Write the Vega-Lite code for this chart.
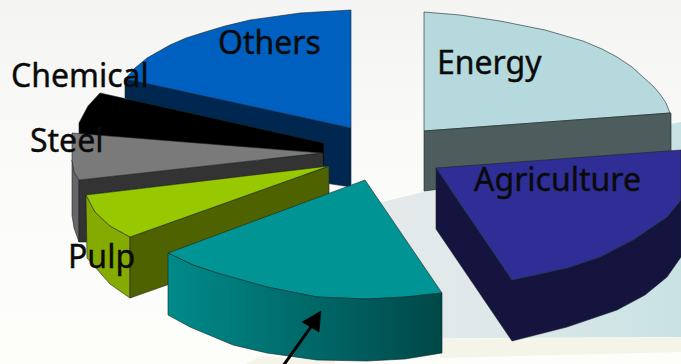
{
"$schema":"https://vega.github.io/schema/vega-lite/v6.json",
"width":681,"height":364,"padding":0,
"autosize":{"type":"none"},
"background":"#f8f9f7",
"view":{"stroke":null},
"config":{"axis":{"grid":false}},
"datasets":{
"floor":[
{"part":"floor","step":1,"x":0,"y":0},{"part":"floor","step":2,"x":681,"y":0},{"part":"floor","step":3,"x":681,"y":364},{"part":"floor","step":4,"x":0,"y":364}
],
"backdrop":[
{"part":"backdrop","step":1,"x":340,"y":215},{"part":"backdrop","step":2,"x":382,"y":202},{"part":"backdrop","step":3,"x":423,"y":192},{"part":"backdrop","step":4,"x":500,"y":160},{"part":"backdrop","step":5,"x":600,"y":135},{"part":"backdrop","step":6,"x":670,"y":124},{"part":"backdrop","step":7,"x":681,"y":122},{"part":"backdrop","step":8,"x":681,"y":337},{"part":"backdrop","step":9,"x":340,"y":339}
],
"shelf":[
{"part":"shelf right","step":1,"x":440,"y":339},{"part":"shelf right","step":2,"x":681,"y":337},{"part":"shelf right","step":3,"x":681,"y":352},{"part":"shelf right","step":4,"x":440,"y":358},
{"part":"shelf left","step":1,"x":245,"y":364},{"part":"shelf left","step":2,"x":262,"y":356},{"part":"shelf left","step":3,"x":335,"y":361},{"part":"shelf left","step":4,"x":335,"y":364}
],
"faces":[
{"part":"Energy top","step":1,"x":424,"y":12},{"part":"Energy top","step":2,"x":460,"y":15},{"part":"Energy top","step":3,"x":500,"y":21},{"part":"Energy top","step":4,"x":545,"y":30},{"part":"Energy top","step":5,"x":583,"y":41},{"part":"Energy top","step":6,"x":602,"y":49},{"part":"Energy top","step":7,"x":617,"y":57},{"part":"Energy top","step":8,"x":632,"y":67},{"part":"Energy top","step":9,"x":643,"y":77},{"part":"Energy top","step":10,"x":653,"y":86},{"part":"Energy top","step":11,"x":660,"y":94},{"part":"Energy top","step":12,"x":666,"y":103},{"part":"Energy top","step":13,"x":670,"y":113},{"part":"Energy top","step":14,"x":424,"y":131},
{"part":"Energy side","step":1,"x":424,"y":131},{"part":"Energy side","step":2,"x":671,"y":113},{"part":"Energy side","step":3,"x":671,"y":160},{"part":"Energy side","step":4,"x":424,"y":191},
{"part":"Others side","step":1,"x":125,"y":78},{"part":"Others side","step":2,"x":351,"y":128},{"part":"Others side","step":3,"x":351,"y":187},{"part":"Others side","step":4,"x":325,"y":183},{"part":"Others side","step":5,"x":125,"y":98},
{"part":"Others top","step":1,"x":351,"y":10},{"part":"Others top","step":2,"x":300,"y":13},{"part":"Others top","step":3,"x":250,"y":20},{"part":"Others top","step":4,"x":225,"y":26},{"part":"Others top","step":5,"x":205,"y":32},{"part":"Others top","step":6,"x":186,"y":38},{"part":"Others top","step":7,"x":170,"y":45},{"part":"Others top","step":8,"x":147,"y":58},{"part":"Others top","step":9,"x":135,"y":68},{"part":"Others top","step":10,"x":125,"y":79},{"part":"Others top","step":11,"x":351,"y":128},
{"part":"Chemical","step":1,"x":100,"y":93},{"part":"Chemical","step":2,"x":324,"y":143},{"part":"Chemical","step":3,"x":324,"y":165},{"part":"Chemical","step":4,"x":79,"y":140},{"part":"Chemical","step":5,"x":79,"y":123},{"part":"Chemical","step":6,"x":88,"y":106},
{"part":"Steel rim","step":1,"x":72,"y":160},{"part":"Steel rim","step":2,"x":79,"y":180},{"part":"Steel rim","step":3,"x":79,"y":242},{"part":"Steel rim","step":4,"x":74,"y":228},{"part":"Steel rim","step":5,"x":72,"y":215},
{"part":"Steel side","step":1,"x":79,"y":180},{"part":"Steel side","step":2,"x":323,"y":153},{"part":"Steel side","step":3,"x":323,"y":167},{"part":"Steel side","step":4,"x":86,"y":195},{"part":"Steel side","step":5,"x":88,"y":242},{"part":"Steel side","step":6,"x":79,"y":242},
{"part":"Steel top","step":1,"x":72,"y":133},{"part":"Steel top","step":2,"x":322,"y":153},{"part":"Steel top","step":3,"x":79,"y":180},{"part":"Steel top","step":4,"x":74,"y":172},{"part":"Steel top","step":5,"x":72,"y":160},
{"part":"Pulp rim","step":1,"x":86,"y":195},{"part":"Pulp rim","step":2,"x":95,"y":212},{"part":"Pulp rim","step":3,"x":110,"y":226},{"part":"Pulp rim","step":4,"x":130,"y":237},{"part":"Pulp rim","step":5,"x":130,"y":298},{"part":"Pulp rim","step":6,"x":110,"y":284},{"part":"Pulp rim","step":7,"x":87,"y":258},
{"part":"Pulp side","step":1,"x":130,"y":237},{"part":"Pulp side","step":2,"x":329,"y":166},{"part":"Pulp side","step":3,"x":329,"y":228},{"part":"Pulp side","step":4,"x":130,"y":298},
{"part":"Pulp top","step":1,"x":86,"y":195},{"part":"Pulp top","step":2,"x":329,"y":166},{"part":"Pulp top","step":3,"x":130,"y":237},{"part":"Pulp top","step":4,"x":110,"y":226},{"part":"Pulp top","step":5,"x":95,"y":212},
{"part":"Agriculture side","step":1,"x":436,"y":168},{"part":"Agriculture side","step":2,"x":512,"y":280},{"part":"Agriculture side","step":3,"x":567,"y":268},{"part":"Agriculture side","step":4,"x":600,"y":257},{"part":"Agriculture side","step":5,"x":633,"y":240},{"part":"Agriculture side","step":6,"x":667,"y":217},{"part":"Agriculture side","step":7,"x":681,"y":200},{"part":"Agriculture side","step":8,"x":681,"y":257},{"part":"Agriculture side","step":9,"x":667,"y":277},{"part":"Agriculture side","step":10,"x":645,"y":295},{"part":"Agriculture side","step":11,"x":617,"y":310},{"part":"Agriculture side","step":12,"x":567,"y":327},{"part":"Agriculture side","step":13,"x":512,"y":341},{"part":"Agriculture side","step":14,"x":436,"y":229},
{"part":"Agriculture top","step":1,"x":436,"y":168},{"part":"Agriculture top","step":2,"x":681,"y":150},{"part":"Agriculture top","step":3,"x":681,"y":200},{"part":"Agriculture top","step":4,"x":667,"y":217},{"part":"Agriculture top","step":5,"x":633,"y":240},{"part":"Agriculture top","step":6,"x":600,"y":257},{"part":"Agriculture top","step":7,"x":567,"y":268},{"part":"Agriculture top","step":8,"x":512,"y":280},
{"part":"Biomass top","step":1,"x":365,"y":180},{"part":"Biomass top","step":2,"x":442,"y":293},{"part":"Biomass top","step":3,"x":405,"y":297},{"part":"Biomass top","step":4,"x":367,"y":299},{"part":"Biomass top","step":5,"x":317,"y":297},{"part":"Biomass top","step":6,"x":267,"y":287},{"part":"Biomass top","step":7,"x":217,"y":273},{"part":"Biomass top","step":8,"x":193,"y":265},{"part":"Biomass top","step":9,"x":168,"y":253}
],
"tealSide":[
{"part":"Biomass side","step":1,"x":168,"y":253},{"part":"Biomass side","step":2,"x":193,"y":265},{"part":"Biomass side","step":3,"x":217,"y":273},{"part":"Biomass side","step":4,"x":267,"y":287},{"part":"Biomass side","step":5,"x":317,"y":297},{"part":"Biomass side","step":6,"x":367,"y":299},{"part":"Biomass side","step":7,"x":405,"y":297},{"part":"Biomass side","step":8,"x":442,"y":293},{"part":"Biomass side","step":9,"x":442,"y":353},{"part":"Biomass side","step":10,"x":405,"y":359},{"part":"Biomass side","step":11,"x":367,"y":361},{"part":"Biomass side","step":12,"x":317,"y":360},{"part":"Biomass side","step":13,"x":267,"y":353},{"part":"Biomass side","step":14,"x":233,"y":345},{"part":"Biomass side","step":15,"x":190,"y":327},{"part":"Biomass side","step":16,"x":168,"y":315}
],
"arrowHead":[
{"part":"head","step":1,"x":321,"y":311},{"part":"head","step":2,"x":302,"y":322},{"part":"head","step":3,"x":319,"y":332}
],
"arrowShaft":[
{"step":1,"x":283,"y":366},{"step":2,"x":313,"y":324}
],
"labels":[
{"label":"Others","x":218,"y":54},
{"label":"Energy","x":437,"y":74},
{"label":"Agriculture","x":474,"y":191},
{"label":"Chemical","x":11,"y":87},
{"label":"Steel","x":30,"y":152},
{"label":"Pulp","x":68,"y":268}
]
},
"encoding":{
"x":{"field":"x","type":"quantitative","scale":{"domain":[0,681]},"axis":null},
"y":{"field":"y","type":"quantitative","scale":{"domain":[364,0]},"axis":null}
},
"layer":[
{"data":{"name":"floor"},"mark":{"type":"line","interpolate":"linear-closed","strokeWidth":0,"fill":{"gradient":"linear","x1":0,"x2":0,"y1":0,"y2":1,"stops":[{"offset":0,"color":"#f4f5f3"},{"offset":0.5,"color":"#fbfbfa"},{"offset":1,"color":"#fdfdfa"}]}},"encoding":{"order":{"field":"step"}}},
{"data":{"name":"backdrop"},"mark":{"type":"line","interpolate":"linear-closed","strokeWidth":0,"fill":{"gradient":"linear","x1":0,"x2":1,"y1":0,"y2":0,"stops":[{"offset":0,"color":"#e6eaea"},{"offset":0.45,"color":"#dfe8e9"},{"offset":1,"color":"#c8e2e4"}]}},"encoding":{"order":{"field":"step"}}},
{"data":{"name":"shelf"},"mark":{"type":"line","interpolate":"linear-closed","strokeWidth":0,"fill":"#f4f5e8"},"encoding":{"order":{"field":"step"},"detail":{"field":"part"}}},
{"data":{"name":"faces"},"mark":{"type":"line","interpolate":"linear-closed","stroke":"#1c2626","strokeWidth":0.6},
"encoding":{"order":{"field":"step"},"detail":{"field":"part"},
"fill":{"field":"part","type":"nominal","legend":null,"scale":{
"domain":["Energy top","Energy side","Others side","Others top","Chemical","Steel rim","Steel side","Steel top","Pulp rim","Pulp side","Pulp top","Agriculture side","Agriculture top","Biomass top"],
"range":["#b5d9dd","#4d5c5c","#00274f","#0060c0","#000000","#666666","#333333","#7a7a7a","#85ab00","#4f6200","#97c800","#14143f","#2e2e96","#009494"]}}}},
{"data":{"name":"tealSide"},"mark":{"type":"line","interpolate":"linear-closed","stroke":"#0c2a2a","strokeWidth":0.6,"fill":{"gradient":"linear","x1":0,"x2":1,"y1":0,"y2":0,"stops":[{"offset":0,"color":"#008a8a"},{"offset":0.55,"color":"#006666"},{"offset":1,"color":"#004848"}]}},"encoding":{"order":{"field":"step"}}},
{"data":{"name":"arrowShaft"},"mark":{"type":"line","stroke":"#000000","strokeWidth":3},"encoding":{"order":{"field":"step"}}},
{"data":{"name":"arrowHead"},"mark":{"type":"line","interpolate":"linear-closed","fill":"#000000","stroke":"#000000","strokeWidth":0.5},"encoding":{"order":{"field":"step"}}},
{"data":{"name":"labels"},"mark":{"type":"text","align":"left","baseline":"alphabetic","font":"Noto Sans","fontSize":32,"color":"#0a0a0a","stroke":"#0a0a0a","strokeWidth":0.4},"encoding":{"text":{"field":"label","type":"nominal"}}}
]
}
